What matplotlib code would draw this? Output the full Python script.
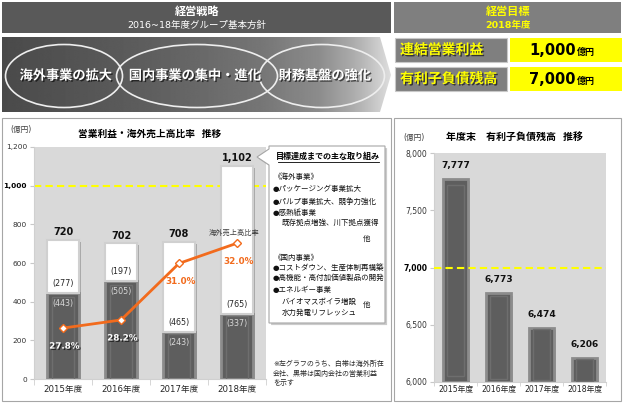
import numpy as np
import matplotlib
matplotlib.use('Agg')
import matplotlib.pyplot as plt
from matplotlib.patches import Rectangle, Ellipse, Polygon
import matplotlib.patheffects as pe

plt.rcParams['font.family'] = ['DejaVu Sans', 'Noto Sans CJK JP']

# ---------------- data ----------------
years = ['2015年度', '2016年度', '2017年度', '2018年度']
profit_total = [720, 702, 708, 1102]
profit_overseas = [277, 197, 465, 765]
profit_domestic = [443, 505, 243, 337]
overseas_ratio = [27.8, 28.2, 31.0, 32.0]
debt = [7777, 6773, 6474, 6206]
profit_target = 1000
debt_target = 7000
left_yticks = [0, 200, 400, 600, 800, 1000, 1200]
right_yticks = [6000, 6500, 7000, 7500, 8000]
strategies = ['海外事業の拡大', '国内事業の集中・進化', '財務基盤の強化']
goal_labels = ['連結営業利益', '有利子負債残高']
goal_values = ['1,000', '7,000']

# ---------------- style ----------------
W, H = 623, 403
ORANGE = '#f26b1d'
DARK = '#5e5e5e'
PLOT_BG = '#d9d9d9'
pct_colors = ['white', 'white', ORANGE, ORANGE]

fig = plt.figure(figsize=(W / 100, H / 100), dpi=100)


def frac(x0, y0, x1, y1):
    return [x0 / W, 1 - y1 / H, (x1 - x0) / W, (y1 - y0) / H]


shadow_txt = [pe.SimplePatchShadow(offset=(1, -1), shadow_rgbFace='black', alpha=0.6), pe.Normal()]
shadow_patch = [pe.SimplePatchShadow(offset=(1.5, -1.5), shadow_rgbFace='#8a8a8a', alpha=0.6), pe.Normal()]

# ---------------- background layer ----------------
bg = fig.add_axes([0, 0, 1, 1])
bg.axis('off')

# headers
bg.add_patch(Rectangle((2, 2), 389, 31, fc='#595959', ec='none'))
bg.add_patch(Rectangle((394, 2), 227, 31, fc='#7f7f7f', ec='none'))
bg.text(197, 12, '経営戦略', color='white', fontsize=8, fontweight='bold', ha='center', va='center')
bg.text(197, 25.5, '2016~18年度グループ基本方針', color='white', fontsize=6.8, ha='center', va='center')
bg.text(508, 12, '経営目標', color='#ffff00', fontsize=8, fontweight='bold', ha='center', va='center')
bg.text(508, 25.5, '2018年度', color='#ffff00', fontsize=6.8, fontweight='bold', ha='center', va='center')

# gradient arrow band
xs = np.linspace(2, 391, 400)
shade = np.interp(xs, [2, 150, 260, 320, 360, 391], [0.29, 0.37, 0.46, 0.55, 0.70, 0.87])
img = np.tile(shade, (4, 1))
im = bg.imshow(img, extent=[2, 391, 112, 37], cmap='gray', vmin=0, vmax=1,
               aspect='auto', interpolation='bilinear', zorder=1)
band = Polygon([(2, 37), (380, 37), (391, 75), (380, 112), (2, 112)], closed=True,
               fc='none', ec='none')
bg.add_patch(band)
im.set_clip_path(band)

for (cx, w), name, tx in zip([(64, 117), (197, 161), (322, 125)], strategies, [66, 195, 325]):
    bg.add_patch(Ellipse((cx, 76), w, 63, fill=False, ec='#eeeeee', lw=1.2, zorder=2))
    bg.text(tx, 76, name, color='white', fontsize=9.5, fontweight='bold', ha='center',
            va='center', zorder=3, path_effects=shadow_txt)

# goal rows
for i, (lab, val) in enumerate(zip(goal_labels, goal_values)):
    y0 = 38 + i * 29
    bg.add_patch(Rectangle((395, y0), 112, 24, fc='#7f7f7f', ec='#c8c8c8', lw=0.8))
    bg.add_patch(Rectangle((510, y0), 112, 24, fc='#ffff00', ec='none'))
    bg.text(400, y0 + 12, lab, color='#ffff00', fontsize=10, fontweight='bold',
            ha='left', va='center', path_effects=shadow_txt)
    bg.text(576, y0 + 17, val, color='black', fontsize=10.5, fontweight='bold',
            ha='right', va='baseline')
    bg.text(577, y0 + 17, '億円', color='black', fontsize=6.5, fontweight='bold',
            ha='left', va='baseline')

# panel frames
bg.add_patch(Rectangle((2, 118), 389, 283, fc='white', ec='#a6a6a6', lw=0.8))
bg.add_patch(Rectangle((394, 118), 227, 283, fc='white', ec='#a6a6a6', lw=0.8))

bg.set_xlim(0, W)
bg.set_ylim(H, 0)

# ---------------- left chart ----------------
x = np.arange(len(years))
ax1 = fig.add_axes(frac(34, 147, 266, 379))
ax1.set_facecolor(PLOT_BG)
ax1.set_xlim(-0.5, len(years) - 0.5)
ax1.set_ylim(0, 1200)
ax1.axhline(profit_target, color='#ffff00', ls=(0, (3.5, 2)), lw=1.5, zorder=2)
ax1.bar(x, profit_domestic, width=0.55, color=DARK, edgecolor='#8c8c8c', lw=2,
        zorder=3, path_effects=shadow_patch)
ax1.bar(x, np.array(profit_domestic) * 0.96, width=0.38, color='none',
        edgecolor='#6e6e6e', lw=1, zorder=3)
ax1.bar(x, profit_overseas, bottom=profit_domestic, width=0.55, color='white',
        edgecolor='#d0d0d0', lw=1.5, zorder=3, path_effects=shadow_patch)
for i in range(len(years)):
    ax1.text(i, profit_domestic[i] + 50, f'({profit_overseas[i]})', ha='center', va='center',
             fontsize=5.8, color='#262626', zorder=5)
    ax1.text(i, profit_domestic[i] - 52, f'({profit_domestic[i]})', ha='center', va='center',
             fontsize=5.8, color='#d9d9d9', zorder=5)
    ax1.annotate(f'{profit_total[i]:,}', (i, profit_total[i]), xytext=(0, 2),
                 textcoords='offset points', ha='center', va='bottom', fontsize=7,
                 fontweight='bold', color='#111111', zorder=5)
ax1.set_yticks(left_yticks)
ax1.set_yticklabels([f'{v:,}' for v in left_yticks], fontsize=5.3, color='#333333')
for lab, v in zip(ax1.get_yticklabels(), left_yticks):
    if v == profit_target:
        lab.set_fontweight('bold')
        lab.set_color('black')
ax1.set_xticks(x)
ax1.set_xticklabels(years, fontsize=6.2, color='#262626')
ax1.set_xticks(np.arange(-0.5, len(years)), minor=True)
ax1.tick_params(axis='x', which='major', length=0, pad=4.5)
ax1.tick_params(axis='x', which='minor', length=4, color='#d0d0d0')
ax1.tick_params(axis='y', length=3, color='#c8c8c8', pad=2)
for s in ['top', 'right']:
    ax1.spines[s].set_visible(False)
for s in ['left', 'bottom']:
    ax1.spines[s].set_color('#d0d0d0')
    ax1.spines[s].set_linewidth(0.8)

ax1b = ax1.twinx()
ax1b.set_ylim(25.28, 36.76)
ax1b.axis('off')
ax1b.plot(x, overseas_ratio, color=ORANGE, lw=2, marker='D', ms=4, mfc='white',
          mec=ORANGE, mew=1, zorder=4)
for i, r in enumerate(overseas_ratio):
    ax1b.annotate(f'{r:.1f}%', (i, r), xytext=(1, -13), textcoords='offset points',
                  ha='center', va='center', fontsize=6.3, fontweight='bold',
                  color=pct_colors[i],
                  path_effects=shadow_txt if pct_colors[i] == 'white' else None)
ax1b.annotate('海外売上高比率', (x[-1], overseas_ratio[-1]), xytext=(-2, 8),
              textcoords='offset points', ha='center', va='center', fontsize=5.2,
              color='#404040')

# ---------------- right chart ----------------
ax2 = fig.add_axes(frac(434, 153, 606, 382))
ax2.set_facecolor(PLOT_BG)
ax2.set_xlim(-0.5, len(years) - 0.5)
ax2.set_ylim(6000, 8000)
base = right_yticks[0]
ax2.bar(x, np.array(debt) - base, bottom=base, width=0.6, color=DARK,
        edgecolor='#8c8c8c', lw=2, zorder=3, path_effects=shadow_patch)
ax2.bar(x, (np.array(debt) - base) * 0.94, bottom=base + (np.array(debt) - base) * 0.03,
        width=0.4, color='none', edgecolor='#6e6e6e', lw=1, zorder=3)
ax2.axhline(debt_target, color='#ffff00', ls=(0, (3.5, 2)), lw=1.5, zorder=4)
for i, v in enumerate(debt):
    ax2.annotate(f'{v:,}', (i, v), xytext=(0, 6.5), textcoords='offset points',
                 ha='center', va='bottom', fontsize=6.5, fontweight='bold', color='#111111')
ax2.set_yticks(right_yticks)
ax2.set_yticklabels([f'{v:,}' for v in right_yticks], fontsize=5.5, color='#333333')
for lab, v in zip(ax2.get_yticklabels(), right_yticks):
    if v == debt_target:
        lab.set_fontweight('bold')
        lab.set_color('black')
ax2.set_xticks(x)
ax2.set_xticklabels(years, fontsize=5.6, color='#262626')
ax2.set_xticks(np.arange(-0.5, len(years)), minor=True)
ax2.tick_params(axis='x', which='major', length=0, pad=2.5)
ax2.tick_params(axis='x', which='minor', length=3, color='#d0d0d0')
ax2.tick_params(axis='y', length=3, color='#c8c8c8', pad=2)
for s in ['top', 'right']:
    ax2.spines[s].set_visible(False)
for s in ['left', 'bottom']:
    ax2.spines[s].set_color('#d0d0d0')
    ax2.spines[s].set_linewidth(0.8)

# ---------------- overlay (titles, callout, notes) ----------------
ov = fig.add_axes([0, 0, 1, 1], zorder=10)
ov.set_facecolor('none')
ov.axis('off')
ov.set_xlim(0, W)
ov.set_ylim(H, 0)

ov.text(21, 129, '(億円)', fontsize=5.5, color='#404040', ha='center', va='center')
ov.text(150, 134, '営業利益・海外売上高比率  推移', fontsize=7, fontweight='bold',
        ha='center', va='center')
ov.text(414, 137, '(億円)', fontsize=5.5, color='#404040', ha='center', va='center')
ov.text(515, 137, '年度末　有利子負債残高  推移', fontsize=7.2, fontweight='bold',
        ha='center', va='center')

callout = Polygon([(269, 146), (385, 146), (385, 323), (269, 323), (269, 165),
                   (257, 157), (269, 149)], closed=True, fc='white', ec='#a6a6a6', lw=0.8,
                  path_effects=[pe.SimplePatchShadow(offset=(1.5, -1.5), shadow_rgbFace='#999999',
                                                     alpha=0.5), pe.Normal()])
ov.add_patch(callout)
ov.text(328, 156.5, '目標達成までの主な取り組み', fontsize=5.8, fontweight='bold',
        ha='center', va='center')
ov.plot([278, 379], [161.5, 161.5], color='black', lw=0.6)

lines = [
    (273, 176, '《海外事業》'),
    (273, 188, '●パッケージング事業拡大'),
    (273, 201, '●パルプ事業拡大、競争力強化'),
    (273, 212, '●感熱紙事業'),
    (282, 222, '既存拠点増強、川下拠点獲得'),
    (273, 257, '《国内事業》'),
    (273, 267, '●コストダウン、生産体制再構築'),
    (273, 277, '●高機能・高付加価値製品の開発'),
    (273, 289, '●エネルギー事業'),
    (282, 301, 'バイオマスボイラ増設'),
    (282, 312, '水力発電リフレッシュ'),
]
for tx, ty, t in lines:
    ov.text(tx, ty, t, fontsize=5.4, ha='left', va='center', color='#111111')
ov.text(367, 238, '他', fontsize=5.4, ha='center', va='center', color='#111111')
ov.text(367, 304, '他', fontsize=5.4, ha='center', va='center', color='#111111')

notes = ['※左グラフのうち、白帯は海外所在', '会社、黒帯は国内会社の営業利益', 'を示す']
for k, t in enumerate(notes):
    ov.text(273, 363 + 10 * k, t, fontsize=5, ha='left', va='center', color='#262626')

fig.savefig('out.png', dpi=100)
